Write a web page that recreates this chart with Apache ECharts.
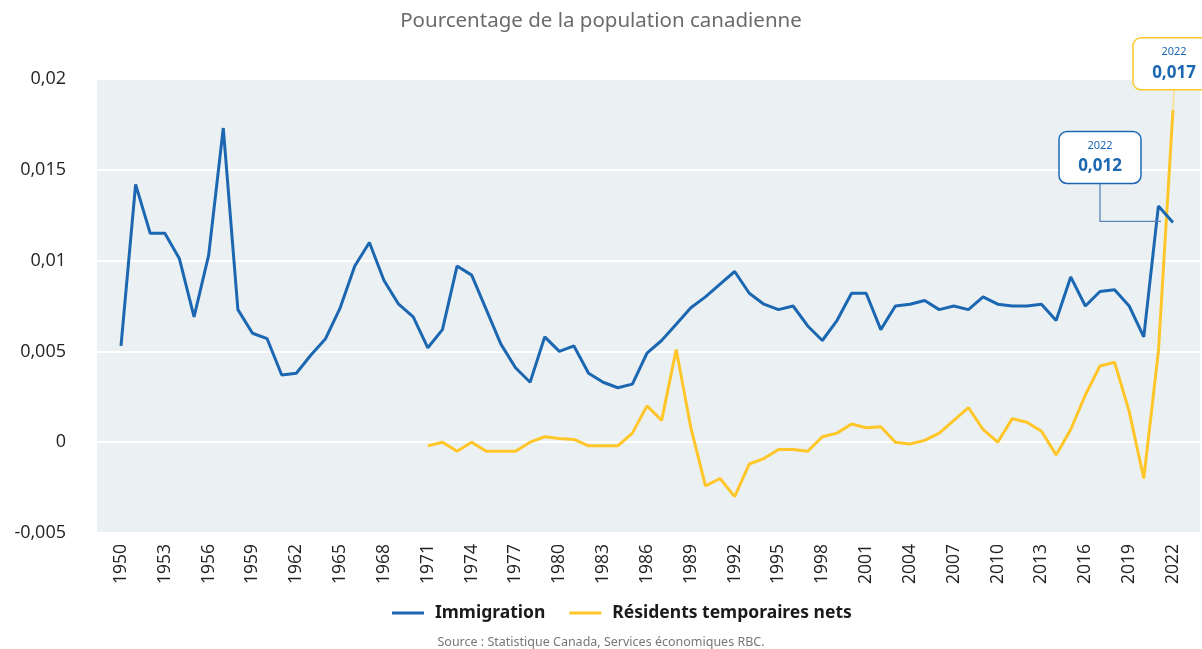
<!DOCTYPE html>
<html>
<head>
<meta charset="utf-8">
<script src="https://cdn.jsdelivr.net/npm/echarts@6/dist/echarts.min.js"></script>
<style>
    html, body {margin: 0; padding: 0; background: #fff;}
    #chart {width: 1202px; height: 649px;}
</style>
</head>
<body>
<div id="chart"></div>
<script>
    // annees 1950 -> 2022
    var years = [];
    for (var y = 1950; y <= 2022; y++) { years.push(String(y)); }

    var immigration = [
        0.0053, 0.0142, 0.0115, 0.0115, 0.0101, 0.0069, 0.0103, 0.0173, 0.0073, 0.0060,
        0.0057, 0.0037, 0.0038, 0.0048, 0.0057, 0.0074, 0.0097, 0.0110, 0.0089, 0.0076,
        0.0069, 0.0052, 0.0062, 0.0097, 0.0092, 0.0073, 0.0054, 0.0041, 0.0033, 0.0058,
        0.0050, 0.0053, 0.0038, 0.0033, 0.0030, 0.0032, 0.0049, 0.0056, 0.0065, 0.0074,
        0.0080, 0.0087, 0.0094, 0.0082, 0.0076, 0.0073, 0.0075, 0.0064, 0.0056, 0.0067,
        0.0082, 0.0082, 0.0062, 0.0075, 0.0076, 0.0078, 0.0073, 0.0075, 0.0073, 0.0080,
        0.0076, 0.0075, 0.0075, 0.0076, 0.0067, 0.0091, 0.0075, 0.0083, 0.0084, 0.0075,
        0.0058, 0.0130, 0.0121
    ];

    // pas de donnees avant 1971
    var residents = [
        null, null, null, null, null, null, null, null, null, null,
        null, null, null, null, null, null, null, null, null, null,
        null, -0.0002, 0.0000, -0.0005, 0.0000, -0.0005, -0.0005, -0.0005, 0.0000, 0.0003,
        0.0002, 0.00015, -0.0002, -0.0002, -0.0002, 0.0005, 0.0020, 0.0012, 0.0051, 0.0008,
        -0.0024, -0.0020, -0.0030, -0.0012, -0.0009, -0.0004, -0.0004, -0.0005, 0.0003, 0.0005,
        0.0010, 0.0008, 0.00085, 0.0000, -0.0001, 0.0001, 0.0005, 0.0012, 0.0019, 0.0007,
        0.0000, 0.0013, 0.0011, 0.0006, -0.0007, 0.0007, 0.0026, 0.0042, 0.0044, 0.0017,
        -0.0020, 0.0050, 0.0183
    ];

    var seriesNames = ['Immigration', 'Résidents temporaires nets'];
    var calloutText = ['0,012', '0,017'];

    var blue = '#1c67b1';
    var yellow = '#ffc629';
    var font = 'Noto Sans';

    var chart = echarts.init(document.getElementById('chart'));

    var yAxisBase = {
        type: 'value',
        min: -0.005,
        max: 0.02,
        interval: 0.005
    };

    chart.setOption({
        animation: false,
        title: [{
            text: 'Pourcentage de la population canadienne',
            left: 'center',
            top: 11,
            padding: 0,
            textStyle: {fontFamily: font, fontSize: 20.5, fontWeight: 'normal', color: '#6b6b6b'}
        }, {
            text: 'Source : Statistique Canada, Services économiques RBC.',
            left: 'center',
            top: 636,
            padding: 0,
            textStyle: {fontFamily: font, fontSize: 12.5, fontWeight: 'normal', color: '#777'}
        }],
        legend: {
            top: 604,
            left: 392,
            padding: 0,
            icon: 'rect',
            itemWidth: 32,
            itemHeight: 3,
            itemGap: 24,
            data: seriesNames,
            textStyle: {fontFamily: font, fontSize: 17.5, fontWeight: 'bold', color: '#1a1a1a', padding: [0, 0, 0, 6]}
        },
        grid: [
            // fond gris
            {left: 97, right: 2, top: 79, bottom: 116, show: true, backgroundColor: '#ebf0f3', borderWidth: 0},
            // zone des donnees
            {left: 121, right: 29, top: 79, bottom: 116}
        ],
        xAxis: [
            {type: 'value', gridIndex: 0, show: false, min: 0, max: 1},
            {
                type: 'category',
                gridIndex: 1,
                data: years,
                boundaryGap: false,
                axisLine: {show: false},
                axisTick: {show: false},
                axisLabel: {
                    interval: 2,
                    rotate: 90,
                    margin: 11,
                    fontFamily: 'Open Sans',
                    fontSize: 17.5,
                    color: '#222'
                }
            }
        ],
        yAxis: [
            Object.assign({}, yAxisBase, {
                gridIndex: 0,
                axisLine: {show: false},
                axisTick: {show: false},
                splitLine: {lineStyle: {color: '#ffffff', width: 2}},
                axisLabel: {
                    margin: 31,
                    fontFamily: 'Open Sans',
                    fontSize: 18,
                    color: '#222',
                    formatter: function (v) {
                        return String(Math.round(v * 1000) / 1000).replace('.', ',');
                    }
                }
            }),
            Object.assign({}, yAxisBase, {gridIndex: 1, show: false, splitLine: {show: false}})
        ],
        series: [{
            name: seriesNames[0],
            type: 'line',
            xAxisIndex: 1,
            yAxisIndex: 1,
            data: immigration,
            showSymbol: false,
            color: blue,
            lineStyle: {width: 3, color: blue},
            z: 3
        }, {
            name: seriesNames[1],
            type: 'line',
            xAxisIndex: 1,
            yAxisIndex: 1,
            data: residents,
            showSymbol: false,
            color: yellow,
            lineStyle: {width: 3, color: yellow},
            z: 2
        }]
    });

    // encadres 2022
    var last = years.length - 1;
    var p = chart.convertToPixel({seriesIndex: 0}, [last, immigration[last]]);
    var q = chart.convertToPixel({seriesIndex: 1}, [last, residents[last]]);

    function callout(cx, top, border, value) {
        return {
            type: 'group',
            children: [{
                type: 'rect',
                shape: {x: cx - 41, y: top, width: 82, height: 52, r: 8},
                style: {fill: '#fff', stroke: border, lineWidth: 1.5},
                z: 10
            }, {
                type: 'text',
                style: {x: cx, y: top + 14, text: years[last], fill: blue, fontSize: 11,
                    fontFamily: font, align: 'center', verticalAlign: 'middle'},
                z: 11
            }, {
                type: 'text',
                style: {x: cx, y: top + 35, text: value, fill: blue, fontSize: 17, fontWeight: 'bold',
                    fontFamily: font, align: 'center', verticalAlign: 'middle'},
                z: 11
            }]
        };
    }

    var bx = p[0] - 73, by = p[1] - 91;
    var yx = q[0] + 1, yy = q[1] - 72;

    chart.setOption({
        graphic: [
            {
                type: 'polyline',
                shape: {points: [[bx, by + 52], [bx, p[1] - 1], [p[0] - 12, p[1] - 1]]},
                style: {stroke: '#5b86b8', lineWidth: 1.3, fill: null},
                z: 9
            },
            {
                type: 'line',
                shape: {x1: q[0] + 1, y1: yy + 52, x2: q[0], y2: q[1]},
                style: {stroke: '#f7df90', lineWidth: 1.5},
                z: 9
            },
            callout(bx, by, blue, calloutText[0]),
            callout(yx, yy, yellow, calloutText[1])
        ]
    });

    window.onresize = function () {
        chart.resize();
    };
</script>
</body>
</html>
